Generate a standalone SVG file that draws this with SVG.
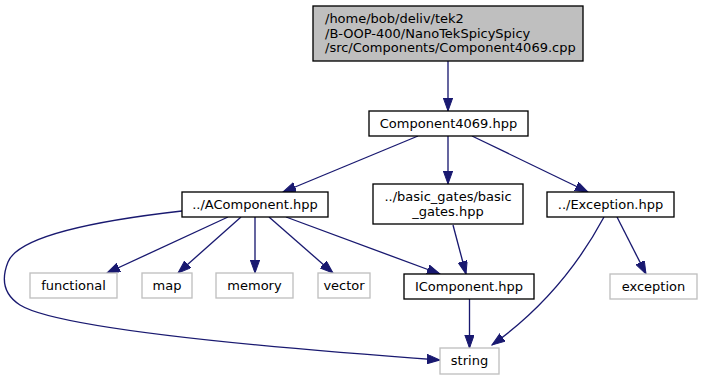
<svg xmlns="http://www.w3.org/2000/svg" width="702" height="380" viewBox="0 0 702 380">
  <style>
    .n rect { fill: #ffffff; stroke: #000000; stroke-width: 1.33; }
    .n.root rect { fill: #bfbfbf; }
    .n.sys rect { stroke: #bfbfbf; }
    text { font-family: "DejaVu Sans", "Liberation Sans", sans-serif; font-size: 13px; fill: #000000; }
    .c { text-anchor: middle; }
    .e path { fill: none; stroke: #191970; stroke-width: 1.33; marker-end: url(#arrow); }
  </style>
  <defs>
    <marker id="arrow" markerUnits="userSpaceOnUse" markerWidth="14" markerHeight="10" refX="13" refY="4.67" orient="auto">
      <path d="M0,0 L13,4.67 L0,9.33 Z" fill="#191970" stroke="#191970" stroke-width="1"/>
    </marker>
  </defs>

  <!-- dependency edges -->
  <g id="edges" class="e">
    <path d="M448,61 L448,111"/>
    <path d="M418,136 L283,192"/>
    <path d="M448,136 L448,184"/>
    <path d="M472,136 L588,192"/>
    <path d="M228,217 L107,273"/>
    <path d="M241,217 L178,273"/>
    <path d="M255,217 L255,273"/>
    <path d="M269,217 L333,273"/>
    <path d="M286,217 L440,274"/>
    <path d="M182,211 C120,218 20,232 8,262 C0,282 6,296 20,305 C60,330 300,350 440,360"/>
    <path d="M453,225 L466,274"/>
    <path d="M604,217 C582,258 548,305 492,345"/>
    <path d="M617,217 L646,274"/>
    <path d="M469.5,299 L469.5,348"/>
  </g>

  <!-- nodes -->
  <g id="node-root" class="n root">
    <rect x="313" y="6" width="270" height="55"/>
    <text x="325" y="23">/home/bob/deliv/tek2</text>
    <text x="325" y="37.5">/B-OOP-400/NanoTekSpicySpicy</text>
    <text x="325" y="52">/src/Components/Component4069.cpp</text>
  </g>
  <g id="node-component4069" class="n">
    <rect x="369" y="111" width="159" height="25"/>
    <text class="c" x="448.5" y="127.5">Component4069.hpp</text>
  </g>
  <g id="node-acomponent" class="n">
    <rect x="182" y="192" width="146" height="25"/>
    <text class="c" x="255" y="208.5">../AComponent.hpp</text>
  </g>
  <g id="node-basic-gates" class="n">
    <rect x="373" y="184" width="150" height="40"/>
    <text class="c" x="448" y="201">../basic_gates/basic</text>
    <text class="c" x="448" y="216">_gates.hpp</text>
  </g>
  <g id="node-exception-hpp" class="n">
    <rect x="547" y="192" width="127" height="25"/>
    <text class="c" x="610.5" y="208.5">../Exception.hpp</text>
  </g>
  <g id="node-functional" class="n sys">
    <rect x="30" y="273" width="87" height="25"/>
    <text class="c" x="73.5" y="289.5">functional</text>
  </g>
  <g id="node-map" class="n sys">
    <rect x="142" y="273" width="50" height="25"/>
    <text class="c" x="167" y="289.5">map</text>
  </g>
  <g id="node-memory" class="n sys">
    <rect x="216" y="273" width="77" height="25"/>
    <text class="c" x="254.5" y="289.5">memory</text>
  </g>
  <g id="node-vector" class="n sys">
    <rect x="318" y="273" width="52" height="25"/>
    <text class="c" x="344" y="289.5">vector</text>
  </g>
  <g id="node-icomponent" class="n">
    <rect x="404" y="274" width="130" height="25"/>
    <text class="c" x="469" y="290.5">IComponent.hpp</text>
  </g>
  <g id="node-exception" class="n sys">
    <rect x="610" y="274" width="87" height="25"/>
    <text class="c" x="653.5" y="290.5">exception</text>
  </g>
  <g id="node-string" class="n sys">
    <rect x="440" y="348" width="59" height="26"/>
    <text class="c" x="469.5" y="365">string</text>
  </g>
</svg>
